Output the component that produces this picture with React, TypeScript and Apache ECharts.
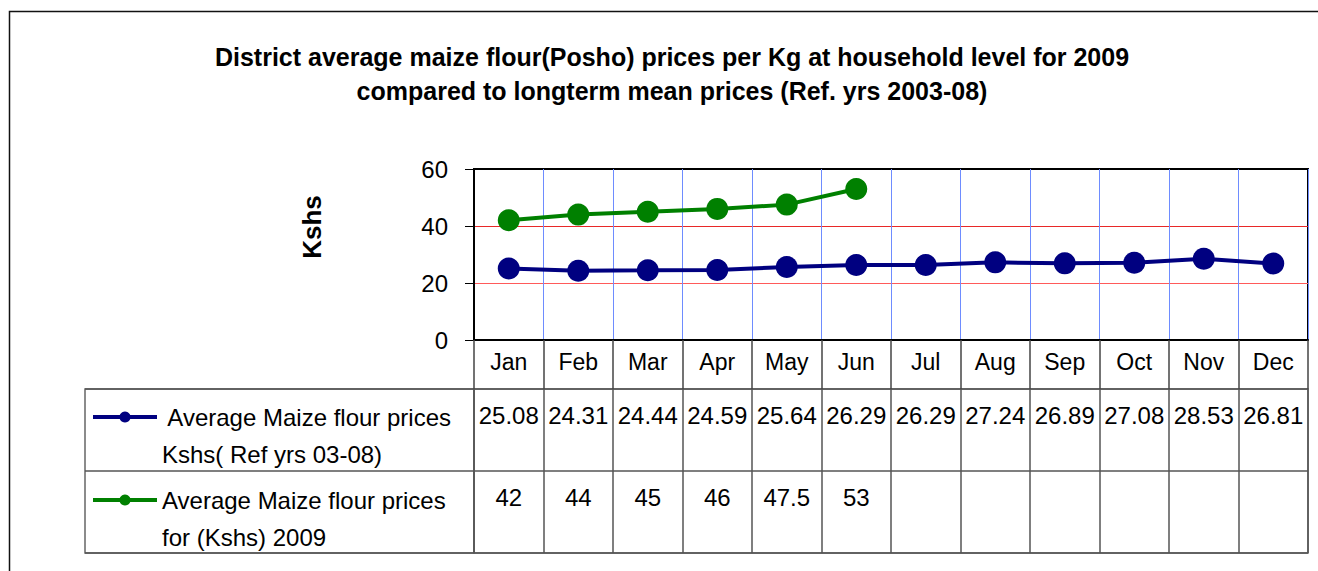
import React, { useEffect, useRef } from 'react';
import * as echarts from 'echarts';

const months = ['Jan', 'Feb', 'Mar', 'Apr', 'May', 'Jun', 'Jul', 'Aug', 'Sep', 'Oct', 'Nov', 'Dec'];
const refPrices = [25.08, 24.31, 24.44, 24.59, 25.64, 26.29, 26.29, 27.24, 26.89, 27.08, 28.53, 26.81];
const prices2009: (number | null)[] = [42, 44, 45, 46, 47.5, 53, null, null, null, null, null, null];
const refName = ' Average Maize flour prices\nKshs( Ref yrs 03-08)';
const name2009 = 'Average Maize flour prices\nfor (Kshs) 2009';
const tableRows = ['ref', 'y2009'];
const titleText =
  'District average maize flour(Posho) prices per Kg at household level for 2009\ncompared to longterm mean prices (Ref. yrs 2003-08)';
const yAxisTitle = 'Kshs';
const yMin = 0;
const yMax = 60;
const yInterval = 20;

const FONT = '"Liberation Sans", Arial, sans-serif';

export default function App() {
  const ref = useRef<HTMLDivElement>(null);
  useEffect(() => {
    if (!ref.current) return;
    const chart = echarts.init(ref.current, undefined, { renderer: 'svg' });

    const tableRef = refPrices.map((v, i) => [i, 0, v]);
    const table2009 = prices2009
      .map((v, i) => (v === null ? null : [i, 1, v]))
      .filter((d) => d !== null);

    const tableLabel = {
      show: true,
      position: 'inside',
      offset: [0, -15],
      fontSize: 24,
      fontFamily: FONT,
      color: '#000',
      opacity: 1,
      formatter: (p: any) => String(p.value[2]),
    };

    const legendBase = {
      orient: 'vertical',
      left: 91,
      padding: 0,
      itemWidth: 64,
      itemHeight: 14,
      itemGap: 0,
      selectedMode: false,
      lineStyle: { width: 4 },
      formatter: (name: string) => '\n' + name,
      textStyle: {
        fontSize: 24,
        fontFamily: FONT,
        color: '#000',
        lineHeight: 37,
      },
    };

    chart.setOption({
      animation: false,
      backgroundColor: '#fff',
      textStyle: { fontFamily: FONT },
      title: {
        text: titleText,
        left: 672,
        top: 40,
        padding: 0,
        textAlign: 'center',
        textStyle: {
          fontSize: 25,
          fontWeight: 'bold',
          lineHeight: 34,
          color: '#000',
          fontFamily: FONT,
        },
      },
      legend: [
        { ...legendBase, top: 361.5, data: [refName] },
        { ...legendBase, top: 444.5, data: [name2009] },
      ],
      grid: [
        {
          left: 474,
          top: 169,
          width: 834,
          height: 171,
          show: true,
          borderColor: '#000',
          borderWidth: 2,
          backgroundColor: '#fff',
        },
        {
          left: 474,
          top: 389,
          width: 834,
          height: 164,
          show: true,
          borderColor: '#666',
          borderWidth: 1.5,
        },
        {
          left: 85,
          top: 389,
          width: 389,
          height: 164,
          show: true,
          borderColor: '#666',
          borderWidth: 1.5,
        },
      ],
      xAxis: [
        {
          type: 'category',
          gridIndex: 0,
          data: months,
          boundaryGap: true,
          axisLine: { show: true, lineStyle: { color: '#000', width: 2 } },
          axisTick: {
            show: true,
            length: 49,
            interval: 0,
            alignWithLabel: false,
            lineStyle: { color: '#444', width: 1.5 },
          },
          axisLabel: {
            interval: 0,
            margin: 10,
            fontSize: 23,
            color: '#000',
            fontFamily: FONT,
          },
          splitLine: {
            show: true,
            interval: 0,
            lineStyle: { color: '#6e8cff', width: 1 },
          },
        },
        {
          type: 'category',
          gridIndex: 1,
          data: months,
          boundaryGap: true,
          axisLine: { show: false },
          axisTick: { show: false },
          axisLabel: { show: false },
          splitLine: { show: true, interval: 0, lineStyle: { color: '#555', width: 1.5 } },
        },
        {
          type: 'value',
          gridIndex: 2,
          show: false,
        },
      ],
      yAxis: [
        {
          type: 'value',
          gridIndex: 0,
          min: yMin,
          max: yMax,
          interval: yInterval,
          axisLine: { show: true, lineStyle: { color: '#000', width: 2 } },
          axisTick: { show: true, length: 9, lineStyle: { color: '#000', width: 1 } },
          axisLabel: { margin: 26, fontSize: 24, color: '#000', fontFamily: FONT },
          splitLine: {
            show: true,
            lineStyle: { color: ['#000', '#ff5a5a', '#e82828', '#000'], width: 1 },
          },
        },
        {
          type: 'category',
          gridIndex: 1,
          data: tableRows,
          inverse: true,
          axisLine: { show: false },
          axisTick: { show: false },
          axisLabel: { show: false },
          splitLine: { show: true, lineStyle: { color: '#555', width: 1.5 } },
        },
        {
          type: 'category',
          gridIndex: 2,
          data: tableRows,
          inverse: true,
          axisLine: { show: false },
          axisTick: { show: false },
          axisLabel: { show: false },
          splitLine: { show: true, lineStyle: { color: '#555', width: 1.5 } },
        },
      ],
      series: [
        {
          name: refName,
          type: 'line',
          xAxisIndex: 0,
          yAxisIndex: 0,
          data: refPrices,
          symbol: 'circle',
          symbolSize: 22,
          lineStyle: { color: '#000080', width: 4 },
          itemStyle: { color: '#000080' },
          z: 3,
        },
        {
          name: name2009,
          type: 'line',
          xAxisIndex: 0,
          yAxisIndex: 0,
          data: prices2009,
          connectNulls: false,
          symbol: 'circle',
          symbolSize: 22,
          lineStyle: { color: '#008000', width: 4 },
          itemStyle: { color: '#008000' },
          z: 3,
        },
        {
          name: 'table-ref',
          type: 'scatter',
          xAxisIndex: 1,
          yAxisIndex: 1,
          data: tableRef,
          symbolSize: 1,
          silent: true,
          itemStyle: { color: 'transparent' },
          label: tableLabel,
        },
        {
          name: 'table-2009',
          type: 'scatter',
          xAxisIndex: 1,
          yAxisIndex: 1,
          data: table2009,
          symbolSize: 1,
          silent: true,
          itemStyle: { color: 'transparent' },
          label: tableLabel,
        },
      ],
      graphic: [
        {
          type: 'rect',
          silent: true,
          z: -10,
          shape: { x: 9.5, y: 11.5, width: 1400, height: 700 },
          style: { fill: 'none', stroke: '#111', lineWidth: 1.5 },
        },
        {
          type: 'text',
          silent: true,
          x: 312,
          y: 227,
          rotation: Math.PI / 2,
          style: {
            text: yAxisTitle,
            font: `bold 26px ${FONT}`,
            fill: '#000',
            align: 'center',
            verticalAlign: 'middle',
          },
        },
      ],
    });

    return () => chart.dispose();
  }, []);

  return (
    <div
      ref={ref}
      style={{ position: 'absolute', left: 0, top: 0, width: 1318, height: 571, overflow: 'hidden' }}
    />
  );
}
